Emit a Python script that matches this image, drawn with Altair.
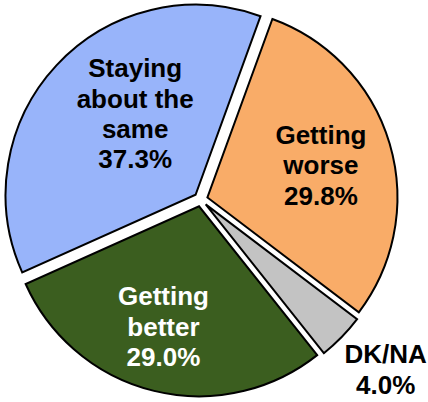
import math
import altair as alt
import pandas as pd

# ---- data ----
CATEGORIES = ["Getting worse", "DK/NA", "Getting better", "Staying about the same"]
LABELS = ["Getting\nworse", "DK/NA", "Getting\nbetter", "Staying\nabout the\nsame"]
VALUES = [29.8, 4.0, 29.0, 37.3]

# ---- styles ----
FILLS = ["#F9AC68", "#C3C3C3", "#3B5E1F", "#98B4FA"]
TEXT_COLORS = ["#000000", "#000000", "#FFFFFF", "#000000"]
START_DEG = 20          # first slice starts 20 degrees clockwise from 12 o'clock
CX, CY = 200.7, 199.5   # pie centre in pixels
EXPLODE = 7             # explosion distance of each slice
RADIUS = 190
LINE_H = 30.3
LABEL_RADIUS = [124.7, 252.0, 133.4, 107.0]   # label distance from centre
LABEL_SHIFT_DEG = [1.0, -1.6, 2.5, 9.3]       # label angle relative to slice bisector

df = pd.DataFrame({
    "order": list(range(len(CATEGORIES))),
    "category": CATEGORIES,
    "label": LABELS,
    "value": VALUES,
    "tcolor": TEXT_COLORS,
    "lr": LABEL_RADIUS,
    "lshift": [math.radians(s) for s in LABEL_SHIFT_DEG],
})

start = math.radians(START_DEG)

base = (
    alt.Chart(df)
    .transform_joinaggregate(total="sum(value)")
    .transform_window(cum="sum(value)", sort=[alt.SortField("order")], frame=[None, 0])
    .transform_calculate(
        t0=f"{start} + 2*PI*(datum.cum - datum.value)/datum.total",
        t1=f"{start} + 2*PI*datum.cum/datum.total",
        text="datum.label + '\\n' + format(datum.value, '.1f') + '%'",
    )
    .transform_calculate(
        mid="(datum.t0 + datum.t1)/2",
        nlines="length(split(datum.text, '\\n'))",
    )
    .transform_calculate(
        px=f"{CX} + {EXPLODE}*sin(datum.mid)",
        py=f"{CY} - {EXPLODE}*cos(datum.mid)",
        lx=f"{CX} + datum.lr*sin(datum.mid + datum.lshift)",
        ly=f"{CY} - datum.lr*cos(datum.mid + datum.lshift) - (datum.nlines - 1)*{LINE_H}/2",
    )
)

arcs = base.mark_arc(outerRadius=RADIUS, stroke="black", strokeWidth=2).encode(
    x=alt.X("px:Q", scale=None, axis=None),
    y=alt.Y("py:Q", scale=None, axis=None),
    theta=alt.Theta("t0:Q", scale=None),
    theta2="t1:Q",
    fill=alt.Fill("category:N", scale=alt.Scale(domain=CATEGORIES, range=FILLS), legend=None),
)

labels = base.mark_text(
    font="Liberation Sans",
    fontWeight="bold",
    fontSize=26,
    lineHeight=LINE_H,
    align="center",
    baseline="middle",
    lineBreak="\n",
).encode(
    x=alt.X("lx:Q", scale=None, axis=None),
    y=alt.Y("ly:Q", scale=None, axis=None),
    text="text:N",
    color=alt.Color("tcolor:N", scale=None),
)

chart = (
    alt.layer(arcs, labels)
    .properties(width=428, height=402, autosize="none", padding=0, background="white")
    .configure_view(stroke=None)
)

chart.save("out.html", embed_options={"renderer": "svg", "actions": False})
